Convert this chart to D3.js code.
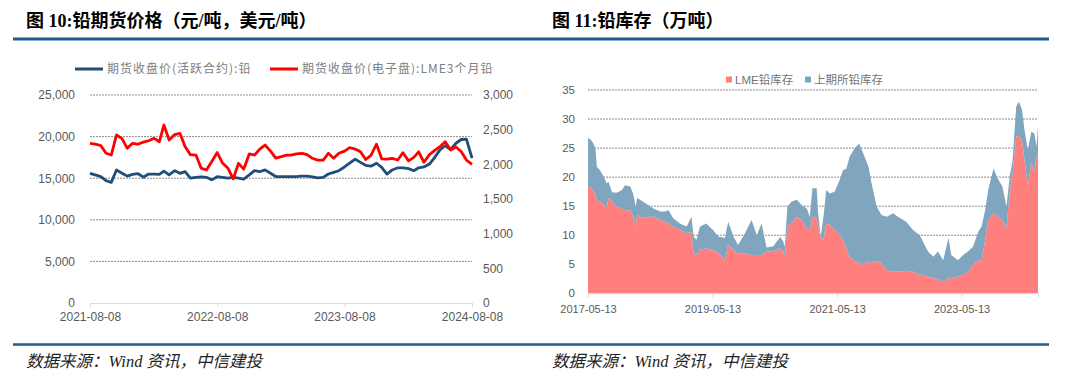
<!DOCTYPE html>
<html>
<head>
<meta charset="utf-8">
<script src="https://cdn.jsdelivr.net/npm/d3@7"></script>
<style>
  body { margin: 0; background: #fff; }
  svg { display: block; font-family: "Liberation Sans", Arial, "Noto Sans CJK SC", sans-serif; }
</style>
</head>
<body>
<svg width="1080" height="380"></svg>
<script>
// ---- Figure 10: lead futures prices (semi-monthly readings) ----
const priceDates = [
  '2021-08-08','2021-08-23','2021-09-08','2021-09-23','2021-10-08','2021-10-23','2021-11-08','2021-11-23','2021-12-08','2021-12-23',
  '2022-01-08','2022-01-23','2022-02-08','2022-02-23','2022-03-08','2022-03-23','2022-04-08','2022-04-23','2022-05-08','2022-05-23',
  '2022-06-08','2022-06-23','2022-07-08','2022-07-23','2022-08-08','2022-08-23','2022-09-08','2022-09-23','2022-10-08','2022-10-23',
  '2022-11-08','2022-11-23','2022-12-08','2022-12-23','2023-01-08','2023-01-23','2023-02-08','2023-02-23','2023-03-08','2023-03-23',
  '2023-04-08','2023-04-23','2023-05-08','2023-05-23','2023-06-08','2023-06-23','2023-07-08','2023-07-23','2023-08-08','2023-08-23',
  '2023-09-08','2023-09-23','2023-10-08','2023-10-23','2023-11-08','2023-11-23','2023-12-08','2023-12-23','2024-01-08','2024-01-23',
  '2024-02-08','2024-02-23','2024-03-08','2024-03-23','2024-04-08','2024-04-23','2024-05-08','2024-05-23','2024-06-08','2024-06-23',
  '2024-07-08','2024-07-23','2024-08-08'
];
// SHFE active contract, CNY/t (left axis)
const shfeClose = [
  15590,15390,15180,14700,14500,15990,15600,15250,15450,15560,
  15120,15500,15500,15450,15850,15400,15900,15590,15780,15000,
  15110,15150,15110,14800,15180,15100,15000,15100,15000,14900,
  15390,15900,15780,16000,15600,15200,15180,15200,15180,15200,
  15260,15260,15150,15050,15100,15500,15700,15900,16350,16800,
  17300,16900,16550,16450,16800,16300,15500,15990,16250,16250,
  16150,15900,16250,16350,16700,17500,18400,18900,18450,19200,
  19650,19700,17400
];
// LME 3-month lead, USD/t (right axis)
const lmeClose = [
  2303,2290,2270,2160,2134,2423,2370,2231,2303,2290,
  2320,2340,2375,2326,2567,2350,2430,2447,2254,2140,
  2134,1945,1918,2038,2170,2020,1942,1790,2014,1930,
  2150,2134,2220,2278,2190,2090,2110,2134,2134,2150,
  2159,2140,2087,2060,2060,2159,2087,2160,2190,2240,
  2220,2182,2070,2130,2290,2080,2075,2087,2062,2168,
  2050,2100,2180,2030,2140,2200,2254,2326,2206,2250,
  2185,2062,2000
];
const priceTicksL = [0, 5000, 10000, 15000, 20000, 25000];
const priceTicksR = [0, 500, 1000, 1500, 2000, 2500, 3000];
const priceXTicks = ['2021-08-08', '2022-08-08', '2023-08-08', '2024-08-08'];

// ---- Figure 11: lead inventories, 10k tonnes ----
const invDates = [
  '2017-05-13','2017-05-28','2017-06-13','2017-06-25','2017-07-04','2017-07-22','2017-08-13','2017-08-31','2017-09-10','2017-10-01',
  '2017-10-28','2017-11-28','2017-12-16','2018-01-16','2018-02-03','2018-02-16','2018-02-25','2018-03-31','2018-04-30','2018-05-31',
  '2018-07-10','2018-08-07','2018-08-28','2018-09-25','2018-11-03','2018-12-13','2019-01-10','2019-01-22','2019-02-08','2019-03-01',
  '2019-04-06','2019-05-16','2019-06-16','2019-07-25','2019-08-13','2019-09-13','2019-10-10','2019-11-19','2019-12-28','2020-01-28',
  '2020-02-25','2020-03-25','2020-05-03','2020-06-13','2020-07-01','2020-07-10','2020-07-25','2020-08-19','2020-09-19','2020-10-16',
  '2020-11-16','2020-12-04','2020-12-19','2021-01-13','2021-01-22','2021-02-06','2021-02-22','2021-03-10','2021-03-31','2021-04-28',
  '2021-05-28','2021-06-16','2021-07-07','2021-07-25','2021-08-25','2021-09-19','2021-10-13','2021-11-13','2021-12-01','2021-12-31',
  '2022-01-28','2022-02-28','2022-04-07','2022-05-04','2022-06-22','2022-08-01','2022-09-10','2022-09-28','2022-10-28','2022-11-28',
  '2022-12-25','2023-01-25','2023-02-25','2023-03-13','2023-04-22','2023-05-22','2023-06-19','2023-07-19','2023-08-19','2023-09-07',
  '2023-09-28','2023-10-16','2023-11-16','2023-12-10','2024-01-07','2024-01-31','2024-02-19','2024-03-07','2024-03-28','2024-04-13',
  '2024-05-01','2024-05-16','2024-06-04','2024-06-25','2024-07-13','2024-07-25','2024-08-03'
];
const lmeStock = [
  18.4,18.2,17.6,17.2,16.0,15.8,15.2,14.9,16.4,15.8,
  14.9,14.6,14.3,14.3,13.2,11.5,13.5,12.9,13.2,13.2,
  12.6,12.3,12.0,11.5,10.9,10.3,10.6,6.9,6.6,7.5,
  7.7,7.5,6.9,5.7,8.3,7.5,6.9,6.9,6.6,6.6,
  6.6,7.2,7.3,7.7,7.2,6.3,11.5,12.0,13.2,12.6,
  11.2,10.9,13.2,12.9,11.5,9.5,9.2,12.0,11.8,10.9,
  10.0,9.2,7.7,6.3,5.5,5.2,4.9,5.5,5.2,5.5,
  5.2,4.0,3.7,3.7,3.9,3.7,3.2,3.2,2.9,2.6,
  2.4,2.0,2.6,2.6,2.9,3.2,3.7,4.9,5.7,5.5,
  9.2,12.6,13.8,13.2,12.6,11.2,17.5,20.7,27.0,27.1,
  26.4,22.9,18.6,22.4,21.2,23.5,24.1
];
const shfeStock = [
  8.3,8.3,8.2,7.8,5.8,5.4,4.9,4.0,2.8,1.6,
  2.4,3.2,4.3,4.1,3.8,3.4,2.9,2.9,2.0,1.4,
  1.5,1.8,2.3,1.4,1.1,1.2,2.6,2.9,2.6,4.0,
  4.3,3.4,2.9,3.8,4.0,2.3,1.4,3.4,6.0,3.4,
  5.4,0.7,0.8,2.0,1.7,1.7,3.4,3.8,2.9,2.6,
  3.4,2.3,4.9,5.2,2.3,0.3,4.0,5.8,5.4,6.6,
  9.5,12.0,13.8,17.2,19.5,20.6,19.2,16.3,13.7,9.4,
  8.3,9.2,10.1,9.5,8.4,7.2,6.8,5.7,4.3,3.7,
  4.8,3.7,6.9,4.0,2.8,3.4,3.5,3.1,4.9,6.0,
  5.1,5.2,7.7,6.6,5.8,3.7,2.6,2.2,5.1,5.9,
  5.2,5.2,6.1,5.4,6.3,1.7,4.6
];
const invTicksY = [0, 5, 10, 15, 20, 25, 30, 35];
const invXTicks = ['2017-05-13', '2019-05-13', '2021-05-13', '2023-05-13'];

const svg = d3.select('svg');
const parse = d3.timeParse('%Y-%m-%d');
const navy = '#1f5a8a';
const axisGrey = '#595959';
const titleFont = '"Liberation Serif", "Noto Sans CJK SC", serif';

// header and footer rules
svg.append('line').attr('x1', 13).attr('x2', 1049).attr('y1', 39).attr('y2', 39)
  .attr('stroke', navy).attr('stroke-width', 3);
svg.append('line').attr('x1', 13).attr('x2', 1049).attr('y1', 344.5).attr('y2', 344.5)
  .attr('stroke', navy).attr('stroke-width', 2.5);

// titles
[[26, '图 10:铅期货价格（元/吨，美元/吨）'], [552, '图 11:铅库存（万吨）']].forEach(([x, t]) => {
  svg.append('text').attr('x', x).attr('y', 27).text(t)
    .attr('font-family', titleFont).attr('font-weight', 'bold')
    .attr('font-size', 18).attr('fill', '#000');
});
// sources
[26, 552].forEach(x => {
  svg.append('text').attr('x', x).attr('y', 367).text('数据来源：Wind 资讯，中信建投')
    .attr('font-family', titleFont).attr('font-style', 'italic')
    .attr('font-size', 16.5).attr('fill', '#222');
});

function styleAxis(g, size) {
  g.selectAll('text').attr('fill', axisGrey).attr('font-size', size);
  g.selectAll('line').attr('stroke', '#d9d9d9');
  g.select('.domain').attr('stroke', '#d9d9d9');
}

// ================= left chart =================
const px = d3.scaleTime().domain([parse(priceXTicks[0]), parse(priceXTicks[3])]).range([90, 472]);
const pyL = d3.scaleLinear().domain([0, 25000]).range([303, 95]);
const pyR = d3.scaleLinear().domain([0, 3000]).range([303, 95]);

const left = svg.append('g');

// dotted gridlines
left.selectAll('line.grid').data(priceTicksL.slice(1)).enter().append('line')
  .attr('x1', 90).attr('x2', 472)
  .attr('y1', d => pyL(d)).attr('y2', d => pyL(d))
  .attr('stroke', '#8c8c8c').attr('stroke-dasharray', '2,1').attr('stroke-width', 1);

const yAxisL = left.append('g').attr('transform', 'translate(90,0)')
  .call(d3.axisLeft(pyL).tickValues(priceTicksL).tickFormat(d3.format(',')).tickSize(0).tickPadding(15));
yAxisL.select('.domain').remove();
styleAxis(yAxisL, 12);

const yAxisR = left.append('g').attr('transform', 'translate(472,0)')
  .call(d3.axisRight(pyR).tickValues(priceTicksR).tickFormat(d3.format(',')).tickSize(0).tickPadding(11));
yAxisR.select('.domain').remove();
styleAxis(yAxisR, 12);

const xAxisL = left.append('g').attr('transform', 'translate(0,303)')
  .call(d3.axisBottom(px).tickValues(priceXTicks.map(parse))
    .tickFormat(d3.timeFormat('%Y-%m-%d')).tickSizeOuter(0).tickSize(4).tickPadding(5));
styleAxis(xAxisL, 12);

const shfeSeries = priceDates.map((d, i) => ({ date: parse(d), v: shfeClose[i] }));
const lmeSeries = priceDates.map((d, i) => ({ date: parse(d), v: lmeClose[i] }));

left.append('path').datum(shfeSeries)
  .attr('fill', 'none').attr('stroke', '#1f4e79').attr('stroke-width', 2.8).attr('stroke-linejoin', 'round')
  .attr('d', d3.line().x(d => px(d.date)).y(d => pyL(d.v)));
left.append('path').datum(lmeSeries)
  .attr('fill', 'none').attr('stroke', '#ff0000').attr('stroke-width', 2.8).attr('stroke-linejoin', 'round')
  .attr('d', d3.line().x(d => px(d.date)).y(d => pyR(d.v)));

// legend
const legL = [
  { x: 75, color: '#1f4e79', label: '期货收盘价(活跃合约):铅' },
  { x: 270, color: '#ff0000', label: '期货收盘价(电子盘):LME3个月铅' }
];
legL.forEach(l => {
  left.append('line').attr('x1', l.x).attr('x2', l.x + 28).attr('y1', 69).attr('y2', 69)
    .attr('stroke', l.color).attr('stroke-width', 3);
  left.append('text').attr('x', l.x + 32).attr('y', 73).text(l.label)
    .attr('font-family', '"Noto Sans CJK SC", sans-serif').attr('font-size', 12)
    .attr('letter-spacing', 1).attr('fill', '#808080');
});

// ================= right chart =================
const invRows = invDates.map((d, i) => ({ date: parse(d), lme: lmeStock[i], shfe: shfeStock[i] }));
const ix = d3.scaleTime().domain([invRows[0].date, invRows[invRows.length - 1].date]).range([588, 1038]);
const iy = d3.scaleLinear().domain([0, 35]).range([293.3, 90]);

const right = svg.append('g');

right.selectAll('line.grid').data(invTicksY.slice(1)).enter().append('line')
  .attr('x1', 588).attr('x2', 1038)
  .attr('y1', d => iy(d)).attr('y2', d => iy(d))
  .attr('stroke', '#8c8c8c').attr('stroke-dasharray', '2,1').attr('stroke-width', 1);

const stack = d3.stack().keys(['lme', 'shfe'])(invRows);
const invColors = { lme: '#ff7f7f', shfe: '#7fa5bf' };
const area = d3.area().x(d => ix(d.data.date)).y0(d => iy(d[0])).y1(d => iy(d[1]));

right.selectAll('path.layer').data(stack).enter().append('path')
  .attr('fill', d => invColors[d.key])
  .attr('d', area);

const yAxisI = right.append('g').attr('transform', 'translate(588,0)')
  .call(d3.axisLeft(iy).tickValues(invTicksY).tickSize(0).tickPadding(13));
yAxisI.select('.domain').remove();
styleAxis(yAxisI, 11.5);

const xAxisI = right.append('g').attr('transform', 'translate(0,293.3)')
  .call(d3.axisBottom(ix).tickValues(invXTicks.map(parse))
    .tickFormat(d3.timeFormat('%Y-%m-%d')).tickSizeOuter(0).tickSize(4).tickPadding(8));
styleAxis(xAxisI, 11);

// legend
const legR = [
  { x: 726, key: 'lme', label: 'LME铅库存' },
  { x: 805, key: 'shfe', label: '上期所铅库存' }
];
legR.forEach(l => {
  right.append('rect').attr('x', l.x).attr('y', 76.5).attr('width', 6).attr('height', 6)
    .attr('fill', invColors[l.key]);
  right.append('text').attr('x', l.x + 9).attr('y', 83.5).text(l.label)
    .attr('font-size', 11.5).attr('fill', '#737373');
});
</script>
</body>
</html>
